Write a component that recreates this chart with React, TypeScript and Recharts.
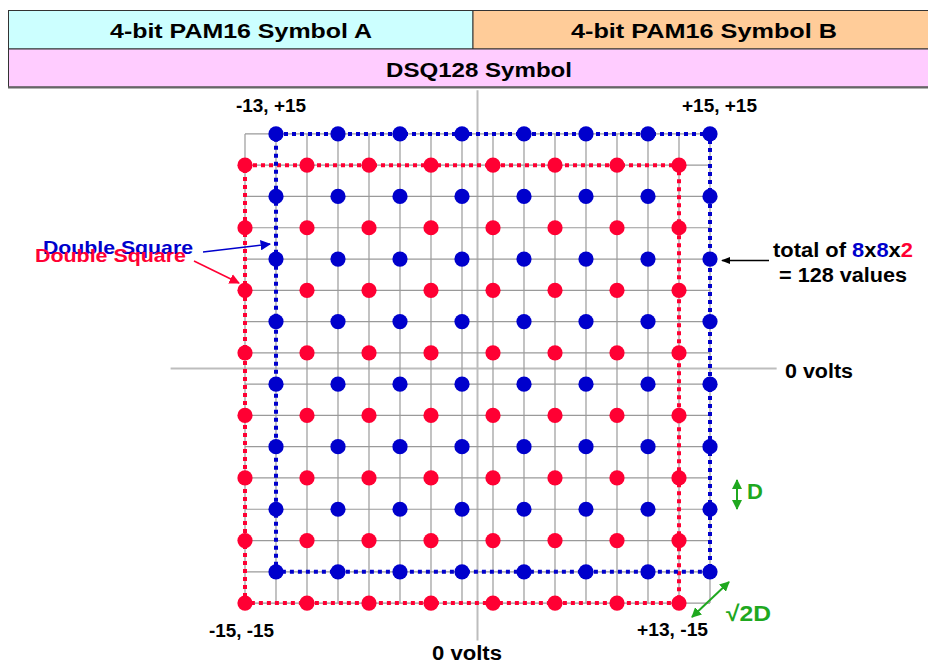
import React from "react";
import { ScatterChart, Scatter, XAxis, YAxis, ReferenceLine } from "recharts";

// DSQ128 constellation: two interleaved 8x8 grids
const blueX = [-13, -9, -5, -1, 3, 7, 11, 15];
const blueY = [15, 11, 7, 3, -1, -5, -9, -13];
const redX = [-15, -11, -7, -3, 1, 5, 9, 13];
const redY = [13, 9, 5, 1, -3, -7, -11, -15];

// grid lines on every odd level
const gridTicks = [-15, -13, -11, -9, -7, -5, -3, -1, 1, 3, 5, 7, 9, 11, 13, 15];
const gridMin = -15;
const gridMax = 15;

// extents of the 0-volt axes
const axisXRange = [-19.8, 19.3];
const axisYRange = [-17.4, 17.8];

const blueSquare = [
  { x: -13, y: 15 },
  { x: 15, y: 15 },
  { x: 15, y: -13 },
  { x: -13, y: -13 },
  { x: -13, y: 15 },
];
const redSquare = [
  { x: -15, y: 13 },
  { x: 13, y: 13 },
  { x: 13, y: -15 },
  { x: -15, y: -15 },
  { x: -15, y: 13 },
];

const BLUE = "#0000cc";
const RED = "#ff0033";
const GREEN = "#1fa81f";
const FONT = "'Liberation Sans', Arial, sans-serif";

const cross = (xs: number[], ys: number[]) =>
  ys.flatMap((y) => xs.map((x) => ({ x, y })));

const bluePoints = cross(blueX, blueY);
const redPoints = cross(redX, redY);

const dot = (color: string) => (props: any) =>
  <circle cx={props.cx} cy={props.cy} r={7.6} fill={color} />;

const noShape = () => <g />;

function Overlay() {
  const t = { fontFamily: FONT, fontWeight: 700 } as const;
  return (
    <svg
      width={928}
      height={664}
      style={{ position: "absolute", left: 0, top: 0, pointerEvents: "none" }}
    >
      <defs>
        <marker id="hBlue" viewBox="0 0 10 10" refX="9" refY="5" markerWidth="7" markerHeight="7" orient="auto-start-reverse">
          <path d="M0,0 L10,5 L0,10 z" fill={BLUE} />
        </marker>
        <marker id="hRed" viewBox="0 0 10 10" refX="9" refY="5" markerWidth="7" markerHeight="7" orient="auto-start-reverse">
          <path d="M0,0 L10,5 L0,10 z" fill={RED} />
        </marker>
        <marker id="hBlack" viewBox="0 0 10 10" refX="9" refY="5" markerWidth="7" markerHeight="7" orient="auto-start-reverse">
          <path d="M0,1 L10,5 L0,9 z" fill="#000" />
        </marker>
        <marker id="hGreen" viewBox="0 0 10 10" refX="9" refY="5" markerWidth="5" markerHeight="5" orient="auto-start-reverse">
          <path d="M0,0 L10,5 L0,10 z" fill={GREEN} />
        </marker>
      </defs>

      {/* header */}
      <rect x={8.5} y={10.5} width={464.5} height={38.5} fill="#ccffff" stroke="#333" />
      <rect x={473} y={10.5} width={460} height={38.5} fill="#ffcc99" stroke="#333" />
      <rect x={8.5} y={49} width={925} height={38} fill="#ffccff" stroke="#333" />
      <line x1={8} y1={87.5} x2={928} y2={87.5} stroke="#666" strokeWidth={2} />
      <text {...t} x={241} y={38} fontSize={20} textAnchor="middle" textLength={262} lengthAdjust="spacingAndGlyphs">4-bit PAM16 Symbol A</text>
      <text {...t} x={704} y={38} fontSize={20} textAnchor="middle" textLength={266} lengthAdjust="spacingAndGlyphs">4-bit PAM16 Symbol B</text>
      <text {...t} x={479} y={77} fontSize={21} textAnchor="middle" textLength={186} lengthAdjust="spacingAndGlyphs">DSQ128 Symbol</text>

      {/* corner labels */}
      <text {...t} x={271} y={112} fontSize={18} textAnchor="middle" textLength={70} lengthAdjust="spacingAndGlyphs">-13, +15</text>
      <text {...t} x={719.5} y={112} fontSize={18} textAnchor="middle" textLength={75} lengthAdjust="spacingAndGlyphs">+15, +15</text>
      <text {...t} x={241.5} y={637} fontSize={18} textAnchor="middle" textLength={65} lengthAdjust="spacingAndGlyphs">-15, -15</text>
      <text {...t} x={672.5} y={636} fontSize={18} textAnchor="middle" textLength={71} lengthAdjust="spacingAndGlyphs">+13, -15</text>

      {/* axis labels */}
      <text {...t} x={785} y={378} fontSize={20} textLength={68} lengthAdjust="spacingAndGlyphs">0 volts</text>
      <text {...t} x={467} y={660} fontSize={20} textAnchor="middle" textLength={70} lengthAdjust="spacingAndGlyphs">0 volts</text>

      {/* double square callouts */}
      <text {...t} x={43} y={254} fontSize={19} fill={BLUE} textLength={150} lengthAdjust="spacingAndGlyphs">Double Square</text>
      <text {...t} x={35} y={262} fontSize={19} fill={RED} textLength={151} lengthAdjust="spacingAndGlyphs">Double Square</text>
      <line x1={203} y1={252} x2={270} y2={244} stroke={BLUE} strokeWidth={1.5} markerEnd="url(#hBlue)" />
      <line x1={194} y1={261} x2={239} y2={283} stroke={RED} strokeWidth={1.5} markerEnd="url(#hRed)" />

      {/* total annotation */}
      <text {...t} x={773} y={257} fontSize={20} textLength={140} lengthAdjust="spacingAndGlyphs">
        total of <tspan fill={BLUE}>8</tspan>x<tspan fill={BLUE}>8</tspan>x<tspan fill={RED}>2</tspan>
      </text>
      <text {...t} x={779} y={282} fontSize={20} textLength={128} lengthAdjust="spacingAndGlyphs">= 128 values</text>
      <line x1={769} y1={260.5} x2={722} y2={260.5} stroke="#000" strokeWidth={1.3} markerEnd="url(#hBlack)" />

      {/* distance annotations */}
      <line x1={737} y1={480} x2={737} y2={509} stroke={GREEN} strokeWidth={2} markerStart="url(#hGreen)" markerEnd="url(#hGreen)" />
      <text {...t} x={747} y={499} fontSize={22} fill={GREEN}>D</text>
      <line x1={729} y1={582} x2={692} y2={617} stroke={GREEN} strokeWidth={2} markerStart="url(#hGreen)" markerEnd="url(#hGreen)" />
      <text {...t} x={726} y={621} fontSize={22} fill={GREEN} textLength={45} lengthAdjust="spacingAndGlyphs">√2D</text>
    </svg>
  );
}

export default function App() {
  return (
    <div style={{ position: "absolute", left: 0, top: 0, width: 928, height: 664, background: "#fff" }}>
      <ScatterChart
        width={928}
        height={664}
        margin={{ top: 87, right: 140.5, bottom: 14, left: 167.5 }}
      >
        <XAxis type="number" dataKey="x" domain={[-20, 20]} allowDataOverflow hide />
        <YAxis type="number" dataKey="y" domain={[-18, 18]} allowDataOverflow hide />

        <ReferenceLine
          segment={[{ x: axisXRange[0], y: 0 }, { x: axisXRange[1], y: 0 }]}
          stroke="#bdbdbd"
          strokeWidth={2}
        />
        <ReferenceLine
          segment={[{ x: 0, y: axisYRange[0] }, { x: 0, y: axisYRange[1] }]}
          stroke="#bdbdbd"
          strokeWidth={2}
        />
        {gridTicks.map((v) => (
          <ReferenceLine
            key={"h" + v}
            segment={[{ x: gridMin, y: v }, { x: gridMax, y: v }]}
            stroke="#9a9a9a"
            strokeWidth={1.2}
          />
        ))}
        {gridTicks.map((v) => (
          <ReferenceLine
            key={"v" + v}
            segment={[{ x: v, y: gridMin }, { x: v, y: gridMax }]}
            stroke="#9a9a9a"
            strokeWidth={1.2}
          />
        ))}

        <Scatter
          data={redSquare}
          shape={noShape}
          line={{ stroke: RED, strokeWidth: 4, strokeDasharray: "4 4" }}
          isAnimationActive={false}
        />
        <Scatter
          data={blueSquare}
          shape={noShape}
          line={{ stroke: BLUE, strokeWidth: 4, strokeDasharray: "4 4" }}
          isAnimationActive={false}
        />
        <Scatter data={redPoints} shape={dot(RED)} isAnimationActive={false} />
        <Scatter data={bluePoints} shape={dot(BLUE)} isAnimationActive={false} />
      </ScatterChart>
      <Overlay />
    </div>
  );
}
